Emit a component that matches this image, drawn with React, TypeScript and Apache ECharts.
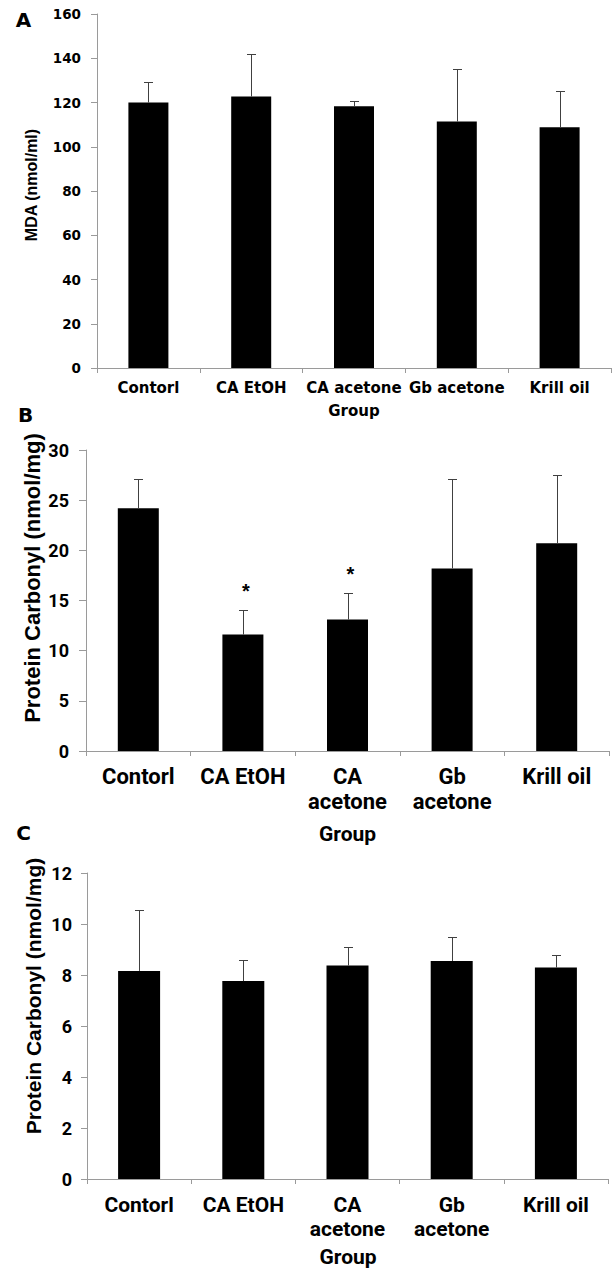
import React, { useEffect, useRef } from "react";
import * as echarts from "echarts";

// ---- data ----
const categories = ["Contorl", "CA EtOH", "CA acetone", "Gb acetone", "Krill oil"];

// Panel A: MDA (nmol/ml)
const mdaMean = [120.0, 122.7, 118.3, 111.4, 108.8];
const mdaUpper = [129.1, 141.9, 120.6, 135.0, 125.4];

// Panel B: Protein Carbonyl (nmol/mg)
const carbBMean = [24.2, 11.6, 13.1, 18.2, 20.7];
const carbBUpper = [27.15, 14.05, 15.7, 27.15, 27.5];
// significance markers (category index, value)
const starsB: [number, number][] = [
  [1, 16.4],
  [2, 18.1],
];

// Panel C: Protein Carbonyl (nmol/mg)
const carbCMean = [8.16, 7.76, 8.37, 8.55, 8.29];
const carbCUpper = [10.56, 8.59, 9.1, 9.49, 8.78];

const yA = { min: 0, max: 160, interval: 20 };
const yB = { min: 0, max: 30, interval: 5 };
const yC = { min: 0, max: 12, interval: 2 };

const AXIS = "#9a9a9a";
const ERR = "#404040";

function errSeries(idx: number, mean: number[], upper: number[]) {
  return {
    type: "custom",
    xAxisIndex: idx,
    yAxisIndex: idx,
    z: 5,
    encode: { x: 0, y: [1, 2] },
    data: mean.map((m, i) => [i, m, upper[i]]),
    renderItem: (_p: any, api: any) => {
      const x = api.value(0);
      const p0 = api.coord([x, api.value(1)]);
      const p1 = api.coord([x, api.value(2)]);
      const cx = Math.round(p0[0]) + 0.5;
      const ty = Math.round(p1[1]) + 0.5;
      return {
        type: "group",
        children: [
          { type: "line", shape: { x1: cx, y1: p0[1], x2: cx, y2: ty }, style: { stroke: ERR, lineWidth: 1 } },
          { type: "line", shape: { x1: cx - 4.5, y1: ty, x2: cx + 4.5, y2: ty }, style: { stroke: ERR, lineWidth: 1 } },
        ],
      };
    },
  };
}

function barSeries(idx: number, mean: number[], width: number) {
  return {
    type: "bar",
    xAxisIndex: idx,
    yAxisIndex: idx,
    barWidth: width,
    data: mean,
    itemStyle: { color: "#000000" },
    z: 2,
  };
}

export default function App() {
  const ref = useRef<HTMLDivElement>(null);
  useEffect(() => {
    document.body.style.margin = "0";
    if (!ref.current) return;
    const chart = echarts.init(ref.current, undefined, { renderer: "svg" });
    const fontA = "DejaVu Sans";
    const fontBC = "Roboto";
    const xAxisCommon = (i: number) => ({
      gridIndex: i,
      type: "category",
      data: categories,
      axisLine: { show: true, lineStyle: { color: AXIS, width: 1 } },
      axisTick: { show: true, length: 5, interval: 0, alignWithLabel: false, lineStyle: { color: AXIS } },
      splitLine: { show: false },
    });
    const yAxisCommon = (i: number, r: any, tickLen: number, margin: number, ff: string, fs: number) => ({
      gridIndex: i,
      type: "value",
      min: r.min,
      max: r.max,
      interval: r.interval,
      splitLine: { show: false },
      axisLine: { show: true, lineStyle: { color: AXIS, width: 1 } },
      axisTick: { show: true, length: tickLen, lineStyle: { color: AXIS } },
      axisLabel: { margin, color: "#000", fontFamily: ff, fontWeight: "bold", fontSize: fs },
    });
    const wrap = (v: string) => v.replace(" acetone", "\nacetone");

    const option: any = {
      animation: false,
      backgroundColor: "#ffffff",
      grid: [
        { left: 97, top: 14, width: 514, height: 354 },
        { left: 86, top: 450, width: 523, height: 301 },
        { left: 87, top: 873, width: 521, height: 306 },
      ],
      xAxis: [
        {
          ...xAxisCommon(0),
          axisLabel: { interval: 0, margin: 11, lineHeight: 18, color: "#000", fontFamily: fontA, fontWeight: "bold", fontSize: 15 },
        },
        {
          ...xAxisCommon(1),
          axisLabel: { interval: 0, margin: 13, lineHeight: 25, color: "#000", fontFamily: fontBC, fontWeight: "bold", fontSize: 22, formatter: wrap },
        },
        {
          ...xAxisCommon(2),
          axisLabel: { interval: 0, margin: 14, lineHeight: 24, color: "#000", fontFamily: fontBC, fontWeight: "bold", fontSize: 21, formatter: wrap },
        },
      ],
      yAxis: [
        yAxisCommon(0, yA, 6, 16, fontA, 13.5),
        yAxisCommon(1, yB, 7, 17, fontBC, 18),
        yAxisCommon(2, yC, 6, 15, fontBC, 18),
      ],
      series: [
        barSeries(0, mdaMean, 40),
        errSeries(0, mdaMean, mdaUpper),
        barSeries(1, carbBMean, 41),
        errSeries(1, carbBMean, carbBUpper),
        {
          type: "custom",
          xAxisIndex: 1,
          yAxisIndex: 1,
          z: 6,
          data: starsB,
          renderItem: (_p: any, api: any) => {
            const p = api.coord([api.value(0), api.value(1)]);
            return {
              type: "text",
              x: p[0] + 3,
              y: p[1] + 5,
              style: {
                text: "*",
                font: 'bold 20px "Liberation Sans", Arial, sans-serif',
                textAlign: "center",
                textVerticalAlign: "middle",
                fill: "#000",
              },
            };
          },
        },
        barSeries(2, carbCMean, 42),
        errSeries(2, carbCMean, carbCUpper),
      ],
      graphic: [
        { type: "text", x: 23.5, y: 20, style: { text: "A", font: 'bold 20px "DejaVu Sans"', fill: "#000", textAlign: "center", textVerticalAlign: "middle" } },
        { type: "text", x: 25.5, y: 415, style: { text: "B", font: 'bold 20px "DejaVu Sans"', fill: "#000", textAlign: "center", textVerticalAlign: "middle" } },
        { type: "text", x: 23.5, y: 833, style: { text: "C", font: 'bold 20px "DejaVu Sans"', fill: "#000", textAlign: "center", textVerticalAlign: "middle" } },
        { type: "text", x: 354, y: 410.5, style: { text: "Group", font: 'bold 15px "DejaVu Sans"', fill: "#000", textAlign: "center", textVerticalAlign: "middle" } },
        { type: "text", x: 347.5, y: 834, style: { text: "Group", font: 'bold 21px Roboto', fill: "#000", textAlign: "center", textVerticalAlign: "middle" } },
        { type: "text", x: 348, y: 1257, style: { text: "Group", font: 'bold 21px Roboto', fill: "#000", textAlign: "center", textVerticalAlign: "middle" } },
        { type: "text", x: 31.5, y: 185, rotation: Math.PI / 2, style: { text: "MDA (nmol/ml)", font: 'bold 16px "Liberation Sans"', fill: "#000", textAlign: "center", textVerticalAlign: "middle" } },
        { type: "text", x: 32.5, y: 578, rotation: Math.PI / 2, style: { text: "Protein Carbonyl (nmol/mg)", font: 'bold 22px "Liberation Sans"', fill: "#000", textAlign: "center", textVerticalAlign: "middle" } },
        { type: "text", x: 33.5, y: 996, rotation: Math.PI / 2, style: { text: "Protein Carbonyl (nmol/mg)", font: 'bold 21px "Liberation Sans"', fill: "#000", textAlign: "center", textVerticalAlign: "middle" } },
      ],
    };
    chart.setOption(option);
    return () => chart.dispose();
  }, []);
  return <div ref={ref} style={{ position: "absolute", left: 0, top: 0, width: 613, height: 1268 }} />;
}
